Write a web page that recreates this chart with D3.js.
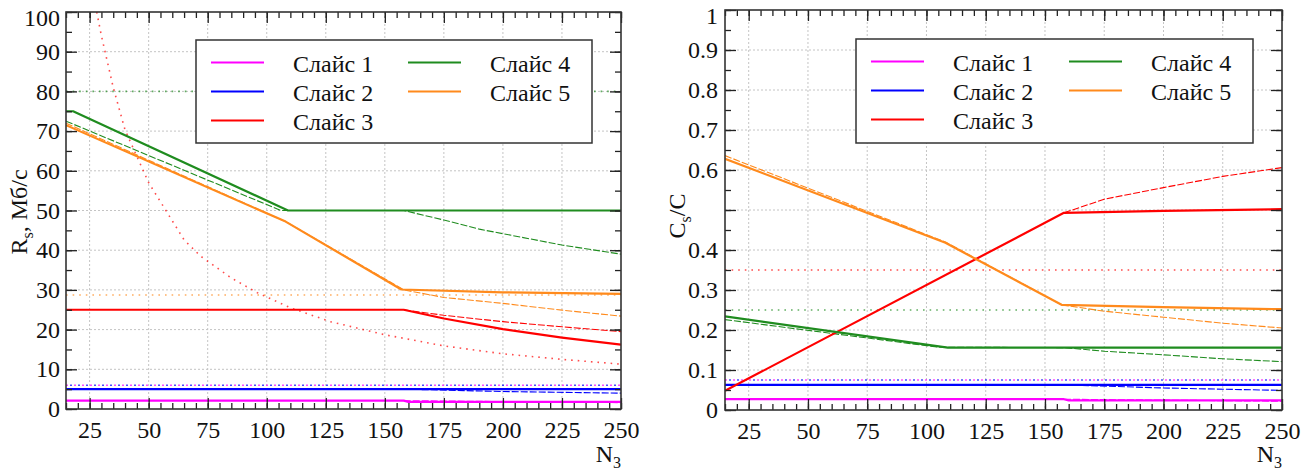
<!DOCTYPE html>
<html>
<head>
<meta charset="utf-8">
<script src="https://cdn.jsdelivr.net/npm/d3@7"></script>
<style>
  body { margin: 0; background: #fff; }
  svg text { font-family: "Liberation Serif", "Times New Roman", Times, Tinos, "Nimbus Roman", "DejaVu Serif", serif; fill: #111; }
</style>
</head>
<body>
<script>
/* global d3 */
(function () {
  'use strict'

  var FONT = '"Liberation Serif", "Times New Roman", Times, Tinos, "Nimbus Roman", "DejaVu Serif", serif'

  // Categories and ticks
  var sliceNames = ['Слайс 1', 'Слайс 2', 'Слайс 3', 'Слайс 4', 'Слайс 5']
  var nDomain = [15, 250]
  var nTicks = [25, 50, 75, 100, 125, 150, 175, 200, 225, 250]
  var nMinor = d3.range(15, 251, 5)

  // Left panel: R_s, Mb/s  (points are [N3, value])
  var rateTicks = [0, 10, 20, 30, 40, 50, 60, 70, 80, 90, 100]
  var rateTickLabels = ['0', '10', '20', '30', '40', '50', '60', '70', '80', '90', '100']
  var rateSolid1 = [[15, 2.1], [158, 2.1], [160, 1.8], [250, 1.8]]
  var rateSolid2 = [[15, 5], [250, 5]]
  var rateSolid3 = [[15, 25], [158, 25], [175, 22.8], [200, 20.1], [225, 18], [250, 16.2]]
  var rateSolid4 = [[15, 75], [18, 75], [109, 50], [250, 50]]
  var rateSolid5 = [[15, 71.5], [108, 47.2], [157, 30.1], [200, 29.4], [250, 29]]
  var rateDashed1 = [[158, 2.1], [250, 1.6]]
  var rateDashed2 = [[158, 5], [200, 4.4], [250, 4.0]]
  var rateDashed3 = [[158, 25], [175, 23.6], [200, 22], [225, 20.7], [250, 19.5]]
  var rateDashed4 = [[15, 72.5], [106, 50], [158, 50], [175, 47.6], [190, 45.3], [225, 41.3], [250, 39]]
  var rateDashed5 = [[15, 72], [108, 47.2], [158, 30], [175, 28.1], [200, 26.6], [225, 24.9], [250, 23.4]]
  var rateDotted1 = [[15, 6], [250, 6]]
  var rateDotted2 = [[15, 6], [250, 6]]
  var rateDotted3 = [[28, 100], [30, 94], [35, 81], [40, 70.3], [50, 57], [65, 42.6], [72, 38.5],
    [85, 33], [96, 29.3], [110, 25.5], [127, 22], [150, 18.7], [175, 15.9], [200, 13.9], [225, 12.5], [250, 11.3]]
  var rateDotted4 = [[15, 80], [250, 80]]
  var rateDotted5 = [[15, 28.7], [250, 28.7]]

  // Right panel: C_s / C
  var shareTicks = [0, 0.1, 0.2, 0.3, 0.4, 0.5, 0.6, 0.7, 0.8, 0.9, 1]
  var shareTickLabels = ['0', '0.1', '0.2', '0.3', '0.4', '', '0.6', '0.7', '0.8', '0.9', '1']
  var shareSolid1 = [[15, 0.027], [158, 0.027], [160, 0.024], [250, 0.024]]
  var shareSolid2 = [[15, 0.063], [250, 0.063]]
  var shareSolid3 = [[15, 0.048], [158, 0.493], [200, 0.498], [250, 0.502]]
  var shareSolid4 = [[15, 0.234], [109, 0.156], [250, 0.156]]
  var shareSolid5 = [[15, 0.628], [108, 0.418], [157, 0.263], [200, 0.257], [250, 0.252]]
  var shareDashed1 = [[158, 0.027], [250, 0.022]]
  var shareDashed2 = [[158, 0.063], [200, 0.055], [250, 0.049]]
  var shareDashed3 = [[158, 0.493], [175, 0.527], [200, 0.556], [225, 0.584], [250, 0.606]]
  var shareDashed4 = [[15, 0.226], [105, 0.157], [158, 0.156], [175, 0.147], [200, 0.138], [225, 0.128], [250, 0.121]]
  var shareDashed5 = [[15, 0.636], [108, 0.42], [157, 0.263], [175, 0.247], [200, 0.232], [225, 0.217], [250, 0.205]]
  var shareDotted1 = [[15, 0.075], [250, 0.075]]
  var shareDotted2 = [[15, 0.075], [250, 0.075]]
  var shareDotted3 = [[15, 0.35], [250, 0.35]]
  var shareDotted4 = [[15, 0.25], [250, 0.25]]

  var colors = ['#ff00ff', '#0000ff', '#ff0000', '#1f8c1f', '#ff8a1c']

  var W = 1309
  var H = 472
  var svg = d3.select('body').append('svg')
    .attr('width', W)
    .attr('height', H)
    .attr('font-family', FONT)

  function panel (opt) {
    var g = svg.append('g')
    var x = d3.scaleLinear().domain(nDomain).range([opt.left, opt.right])
    var y = d3.scaleLinear().domain(opt.yDomain).range([opt.bottom, opt.top])

    // grid
    g.append('g').selectAll('line')
      .data(nTicks.filter(function (d) { return d < nDomain[1] }))
      .enter().append('line')
      .attr('x1', function (d) { return x(d) }).attr('x2', function (d) { return x(d) })
      .attr('y1', opt.top).attr('y2', opt.bottom)
      .attr('stroke', '#c4c4c4').attr('stroke-dasharray', '2,2')
    g.append('g').selectAll('line')
      .data(opt.yTicks.slice(1, -1))
      .enter().append('line')
      .attr('y1', function (d) { return y(d) }).attr('y2', function (d) { return y(d) })
      .attr('x1', opt.left).attr('x2', opt.right)
      .attr('stroke', '#c4c4c4').attr('stroke-dasharray', '2,2')

    var clipId = 'clip' + opt.id
    svg.append('clipPath').attr('id', clipId).append('rect')
      .attr('x', opt.left).attr('y', opt.top)
      .attr('width', opt.right - opt.left).attr('height', opt.bottom - opt.top)

    var line = d3.line()
      .x(function (d) { return x(d[0]) })
      .y(function (d) { return y(d[1]) })
    var lines = g.append('g').attr('clip-path', 'url(#' + clipId + ')')

    // dotted limits
    opt.dotted.forEach(function (s, i) {
      if (!s) return
      var isPair = i < 2
      lines.append('path').datum(s)
        .attr('d', line)
        .attr('fill', 'none')
        .attr('stroke', colors[i])
        .attr('stroke-width', 1.6)
        .attr('stroke-opacity', 0.7)
        .attr('stroke-dasharray', isPair ? '2,6' : '1.6,5')
        .attr('stroke-dashoffset', i === 1 ? 4 : 0)
    })
    // dashed
    opt.dashed.forEach(function (s, i) {
      lines.append('path').datum(s)
        .attr('d', line)
        .attr('fill', 'none')
        .attr('stroke', colors[i])
        .attr('stroke-width', 1.1)
        .attr('stroke-dasharray', '7,2')
    })
    // solid
    opt.solid.forEach(function (s, i) {
      lines.append('path').datum(s)
        .attr('d', line)
        .attr('fill', 'none')
        .attr('stroke', colors[i])
        .attr('stroke-width', 2.2)
        .attr('stroke-linejoin', 'round')
    })

    // axes: ticks inside on all sides
    function addAxis (axis, tx, ty, vals, size, labels, pad) {
      var a = axis.tickValues(vals).tickSizeInner(size).tickSizeOuter(0).tickPadding(pad || 0)
      if (labels) {
        a.tickFormat(function (d, i) { return labels[i] })
      } else {
        a.tickFormat('')
      }
      var ag = g.append('g').attr('transform', 'translate(' + tx + ',' + ty + ')').call(a)
      ag.attr('font-family', FONT).attr('font-size', 24)
      ag.select('.domain').remove()
      ag.selectAll('line').attr('stroke', '#222').attr('stroke-width', 1.3)
      ag.selectAll('text').attr('font-size', 24).style('font-family', FONT).attr('fill', '#111')
      return ag
    }
    var yMinor = opt.yMinor
    addAxis(d3.axisBottom(x), 0, opt.bottom, nMinor, -6)
    addAxis(d3.axisBottom(x), 0, opt.bottom, nTicks, -11, nTicks.map(String), 12)
    addAxis(d3.axisTop(x), 0, opt.top, nMinor, -6)
    addAxis(d3.axisTop(x), 0, opt.top, nTicks, -11)
    addAxis(d3.axisLeft(y), opt.left, 0, yMinor, -6)
    var ya = addAxis(d3.axisLeft(y), opt.left, 0, opt.yTicks, -11, opt.yLabels, opt.yPad)
    // keep the top label inside the picture
    ya.selectAll('text').filter(function (d) { return d === opt.yDomain[1] })
      .attr('dy', '0.55em')
    addAxis(d3.axisRight(y), opt.right, 0, yMinor, -6)
    addAxis(d3.axisRight(y), opt.right, 0, opt.yTicks, -11)

    // frame
    g.append('rect')
      .attr('x', opt.left).attr('y', opt.top)
      .attr('width', opt.right - opt.left).attr('height', opt.bottom - opt.top)
      .attr('fill', 'none').attr('stroke', '#333').attr('stroke-width', 1.6)

    // legend
    var lg = opt.legend
    g.append('rect')
      .attr('x', lg.x).attr('y', lg.y).attr('width', lg.w).attr('height', lg.h)
      .attr('fill', '#fff').attr('stroke', '#333').attr('stroke-width', 1.5)
    sliceNames.forEach(function (name, i) {
      var col = i < 3 ? 0 : 1
      var row = i < 3 ? i : i - 3
      var ly = lg.y + 22.5 + row * 29
      var lx = lg.x + (col === 0 ? lg.c1 : lg.c2)
      g.append('line')
        .attr('x1', lx).attr('x2', lx + 53)
        .attr('y1', ly).attr('y2', ly)
        .attr('stroke', colors[i]).attr('stroke-width', 2.2)
      g.append('text')
        .attr('x', lx + 82).attr('y', ly + 9)
        .attr('font-size', 24)
        .style('font-family', FONT)
        .text(name)
    })

    // axis titles
    var xt = g.append('text')
      .attr('x', opt.right).attr('y', 462)
      .attr('text-anchor', 'end')
      .attr('font-size', 24)
      .style('font-family', FONT)
    xt.append('tspan').text('N')
    xt.append('tspan').attr('font-size', 16).attr('dy', 6).text('3')

    var yt = g.append('text')
      .attr('transform', 'translate(' + opt.yTitleX + ',' + opt.yTitleY + ') rotate(-90)')
      .attr('text-anchor', 'middle')
      .attr('font-size', 24)
      .style('font-family', FONT)
    opt.yTitle.forEach(function (part) {
      var t = yt.append('tspan').text(part.t)
      if (part.sub) t.attr('font-size', 16).attr('dy', 6)
      if (part.up) t.attr('dy', -6)
    })
  }

  panel({
    id: 'L',
    left: 66, right: 621, top: 12, bottom: 409,
    yDomain: [0, 100],
    yTicks: rateTicks,
    yLabels: rateTickLabels,
    yMinor: d3.range(0, 101, 5),
    yPad: 6,
    solid: [rateSolid1, rateSolid2, rateSolid3, rateSolid4, rateSolid5],
    dashed: [rateDashed1, rateDashed2, rateDashed3, rateDashed4, rateDashed5],
    dotted: [rateDotted1, rateDotted2, rateDotted3, rateDotted4, rateDotted5],
    legend: { x: 196, y: 40, w: 396, h: 103, c1: 15, c2: 212 },
    yTitle: [{ t: 'R' }, { t: 's', sub: true }, { t: ', Мб/с', up: true }],
    yTitleX: 27, yTitleY: 212
  })

  panel({
    id: 'R',
    left: 725, right: 1282, top: 10, bottom: 410,
    yDomain: [0, 1],
    yTicks: shareTicks,
    yLabels: shareTickLabels,
    yMinor: d3.range(0, 21).map(function (i) { return i * 0.05 }),
    yPad: 7,
    solid: [shareSolid1, shareSolid2, shareSolid3, shareSolid4, shareSolid5],
    dashed: [shareDashed1, shareDashed2, shareDashed3, shareDashed4, shareDashed5],
    dotted: [shareDotted1, shareDotted2, shareDotted3, shareDotted4, null],
    legend: { x: 856, y: 39, w: 397, h: 104, c1: 15, c2: 213 },
    yTitle: [{ t: 'C' }, { t: 's', sub: true }, { t: '/C', up: true }],
    yTitleX: 685, yTitleY: 216
  })
}())
</script>
</body>
</html>
